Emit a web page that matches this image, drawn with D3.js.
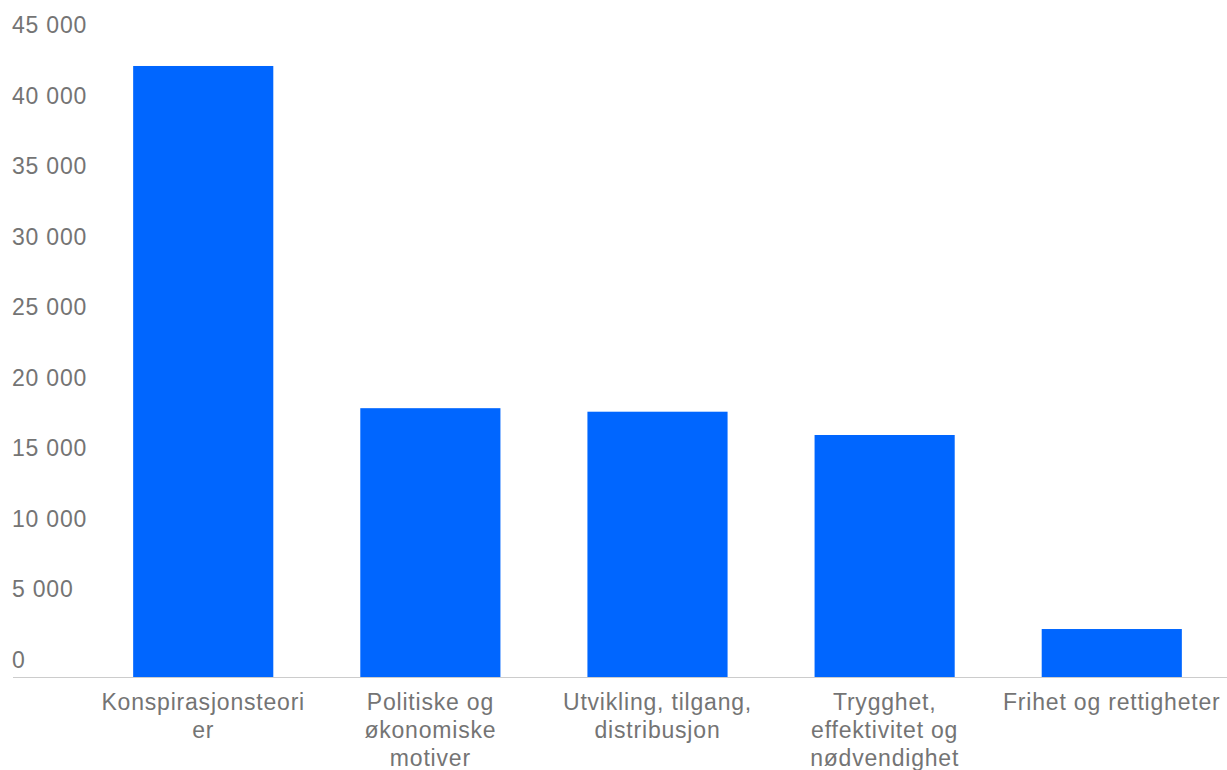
<!DOCTYPE html>
<html>
<head>
<meta charset="utf-8">
<script src="https://cdn.jsdelivr.net/npm/d3@7"></script>
<style>
  body { margin: 0; background: #fff; }
  text { font-family: "Liberation Sans", Arial, sans-serif; fill: #747474; }
</style>
</head>
<body>
<svg id="board" width="1227" height="770"></svg>
<script>
// data
let categories = ['Konspirasjonsteori\ner', 'Politiske og\nøkonomiske\nmotiver', 'Utvikling, tilgang,\ndistribusjon', 'Trygghet,\neffektivitet og\nnødvendighet', 'Frihet og rettigheter']
let values = [43300, 19050, 18800, 17150, 3400]
let yTicks = [0, 5000, 10000, 15000, 20000, 25000, 30000, 35000, 40000, 45000]

let board = d3.select('#board')

let x = d3.scaleBand()
    .domain(categories)
    .range([90, 1225])
    .paddingInner(0.383)
    .paddingOuter(0.19)

let y = d3.scaleLinear()
    .domain([0, 45000])
    .range([677, 42])

let fmt = (v) => d3.format(',')(v).replace(/,/g, ' ')

// y labels sit a bit above their value
board.append('g')
    .selectAll('text')
    .data(yTicks)
    .enter()
    .append('text')
    .attr('x', 12)
    .attr('y', (d) => y(d) - 9)
    .attr('font-size', 23)
    .attr('letter-spacing', 0.8)
    .text((d) => fmt(d))

board.append('g')
    .selectAll('rect')
    .data(values)
    .enter()
    .append('rect')
    .attr('x', (d, i) => x(categories[i]))
    .attr('width', x.bandwidth())
    .attr('y', (d) => y(d))
    .attr('height', (d) => y(0) - y(d))
    .attr('fill', '#0066ff')

board.append('line')
    .attr('x1', 13)
    .attr('x2', 1227)
    .attr('y1', y(0) + 0.5)
    .attr('y2', y(0) + 0.5)
    .attr('stroke', '#cccccc')

let xLabels = board.append('g')
    .selectAll('text')
    .data(categories)
    .enter()
    .append('text')
    .attr('text-anchor', 'middle')
    .attr('font-size', 23)
    .attr('letter-spacing', 0.8)
    .attr('transform', (d) => 'translate(' + (x(d) + x.bandwidth() / 2) + ',710)')

xLabels.selectAll('tspan')
    .data((d) => d.split('\n'))
    .enter()
    .append('tspan')
    .attr('x', 0)
    .attr('y', (d, i) => i * 28)
    .text((d) => d)
</script>
</body>
</html>
